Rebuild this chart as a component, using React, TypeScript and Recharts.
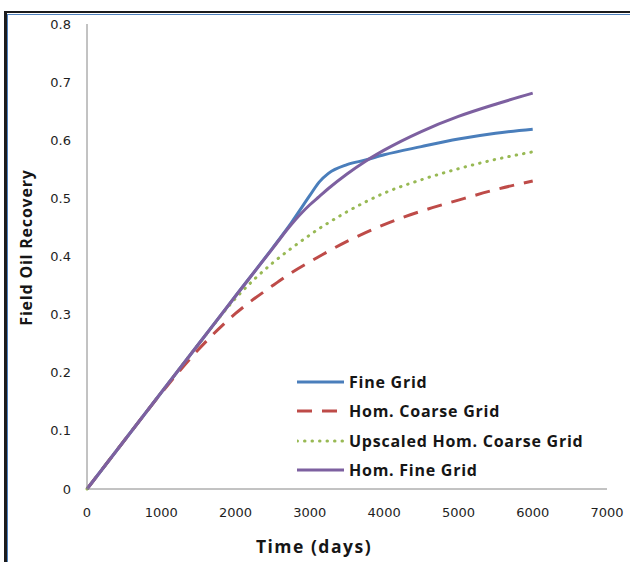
import React from 'react';
import { LineChart, Line, XAxis, YAxis, Legend, Label } from 'recharts';

// Simulation time (days) at which recovery was sampled
const times = [0, 500, 1000, 1500, 2000, 2500, 2750, 3000, 3125, 3250, 3500, 3750, 4000, 4500, 5000, 5500, 6000];

// Field oil recovery factor per model
const fineGrid = [0, 0.083, 0.166, 0.249, 0.332, 0.415, 0.458, 0.505, 0.528, 0.543, 0.558, 0.566, 0.575, 0.589, 0.602, 0.612, 0.619];
const homCoarseGrid = [0, 0.083, 0.165, 0.24, 0.302, 0.35, 0.372, 0.391, 0.4, 0.409, 0.426, 0.441, 0.455, 0.478, 0.497, 0.515, 0.53];
const upscaledHomCoarseGrid = [0, 0.083, 0.166, 0.249, 0.328, 0.389, 0.414, 0.437, 0.448, 0.458, 0.477, 0.494, 0.509, 0.532, 0.551, 0.567, 0.58];
const homFineGrid = [0, 0.083, 0.166, 0.249, 0.332, 0.414, 0.455, 0.489, 0.503, 0.517, 0.542, 0.564, 0.583, 0.615, 0.641, 0.662, 0.681];

const xTicks = [0, 1000, 2000, 3000, 4000, 5000, 6000, 7000];
const yTicks = [0, 0.1, 0.2, 0.3, 0.4, 0.5, 0.6, 0.7, 0.8];

const seriesNames = ['Fine Grid', 'Hom. Coarse Grid', 'Upscaled Hom. Coarse Grid', 'Hom. Fine Grid'];

const rows = times.map((t, i) => ({
  time: t,
  fine: fineGrid[i],
  homCoarse: homCoarseGrid[i],
  upscaled: upscaledHomCoarseGrid[i],
  homFine: homFineGrid[i],
}));

type SeriesStyle = {
  key: string;
  name: string;
  color: string;
  dash?: string;
  cap?: 'round' | 'butt';
  width: number;
};

const SERIES: SeriesStyle[] = [
  { key: 'fine', name: seriesNames[0], color: '#4A7EBB', width: 3 },
  { key: 'homCoarse', name: seriesNames[1], color: '#BE4B48', dash: '15 10', width: 3 },
  { key: 'upscaled', name: seriesNames[2], color: '#98B954', dash: '0.5 7', cap: 'round', width: 3 },
  { key: 'homFine', name: seriesNames[3], color: '#7D60A0', width: 3 },
];

const titleFont = '"Open Sans", Lato, sans-serif';
const tickStyle = { fill: '#1e1e1e', fontSize: 13, fontFamily: '"DejaVu Sans", Verdana, sans-serif' };

const renderLegend = () => (
  <div style={{ display: 'flex', flexDirection: 'column' }}>
    {SERIES.map((s) => (
      <div key={s.key} style={{ display: 'flex', alignItems: 'center', height: 29.5 }}>
        <svg width={47} height={8} style={{ display: 'block' }}>
          <line
            x1={0}
            y1={4}
            x2={47}
            y2={4}
            stroke={s.color}
            strokeWidth={s.width}
            strokeDasharray={s.dash}
            strokeLinecap={s.cap ?? 'butt'}
          />
        </svg>
        <span
          style={{
            marginLeft: 5,
            fontFamily: titleFont,
            fontWeight: 700,
            fontSize: 16,
            letterSpacing: 0.75,
            color: '#161616',
            whiteSpace: 'nowrap',
            lineHeight: '20px',
          }}
        >
          {s.name}
        </span>
      </div>
    ))}
  </div>
);

export default function App() {
  return (
    <div style={{ position: 'absolute', left: 0, top: 0, width: 630, height: 562, background: '#fff', overflow: 'hidden' }}>
      {/* chart frame */}
      <div style={{ position: 'absolute', left: 4, top: 11, width: 700, height: 700, borderLeft: '3px solid #1c1c1c', borderTop: '2px solid #1c1c1c' }} />
      <div style={{ position: 'absolute', left: 7, top: 14, width: 700, height: 700, borderLeft: '1px solid #4F81BD', borderTop: '1px solid #4F81BD' }} />
      <div style={{ position: 'absolute', left: 0, top: 0 }}>
        <LineChart width={630} height={562} data={rows} margin={{ top: 24, right: 23, bottom: 0, left: 0 }}>
          <XAxis
            dataKey="time"
            type="number"
            domain={[0, 7000]}
            ticks={xTicks}
            height={73}
            axisLine={{ stroke: '#868686', strokeWidth: 1 }}
            tickLine={false}
            tickSize={6}
            tickMargin={13}
            tick={tickStyle}
            interval={0}
          >
            <Label
              value="Time (days)"
              position="insideBottom"
              offset={9}
              dx={-33}
              style={{ fontFamily: titleFont, fontWeight: 700, fontSize: 17.5, letterSpacing: 1.5, fill: '#161616' }}
            />
          </XAxis>
          <YAxis
            type="number"
            domain={[0, 0.8]}
            ticks={yTicks}
            width={87}
            axisLine={{ stroke: '#868686', strokeWidth: 1 }}
            tickLine={false}
            tickSize={6}
            tickMargin={10}
            tick={tickStyle}
            interval={0}
          >
            <Label
              value="Field Oil Recovery"
              position="insideLeft"
              offset={26}
              angle={-90}
              textAnchor="middle"
              dy={-9}
              style={{ fontFamily: titleFont, fontWeight: 700, fontSize: 16, letterSpacing: 0.8, fill: '#161616' }}
            />
          </YAxis>
          <Legend
            layout="vertical"
            align="center"
            verticalAlign="middle"
            content={renderLegend}
            wrapperStyle={{ position: 'absolute', left: 297, top: 367, width: 330, height: 120 }}
          />
          {SERIES.map((s) => (
            <Line
              key={s.key}
              dataKey={s.key}
              name={s.name}
              type="monotone"
              stroke={s.color}
              strokeWidth={s.width}
              strokeDasharray={s.dash}
              strokeLinecap={s.cap ?? 'butt'}
              dot={false}
              activeDot={false}
              isAnimationActive={false}
            />
          ))}
        </LineChart>
      </div>
    </div>
  );
}
